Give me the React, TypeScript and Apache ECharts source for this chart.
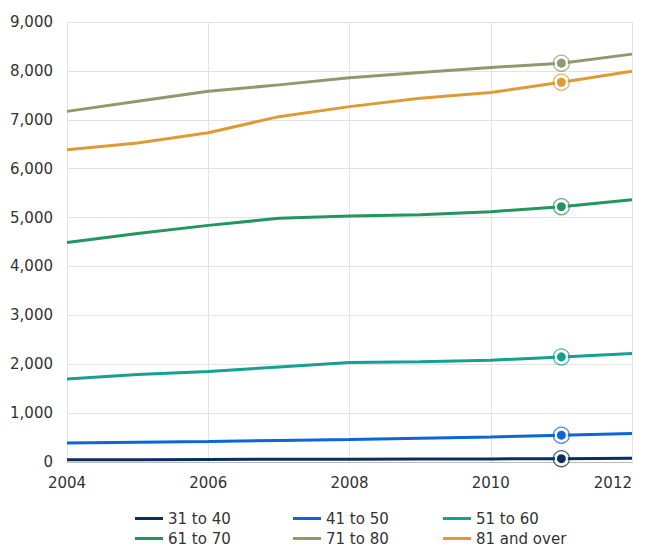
import React, { useEffect, useRef } from "react";
import * as echarts from "echarts";

const years = [2004, 2005, 2006, 2007, 2008, 2009, 2010, 2011, 2012];
const seriesNames = ["31 to 40", "41 to 50", "51 to 60", "61 to 70", "71 to 80", "81 and over"];
const age31to40 = [45, 48, 52, 55, 58, 60, 63, 68, 75];
const age41to50 = [391, 405, 419, 440, 460, 487, 513, 548, 583];
const age51to60 = [1699, 1789, 1851, 1945, 2035, 2049, 2082, 2150, 2218];
const age61to70 = [4491, 4675, 4840, 4984, 5031, 5057, 5119, 5222, 5365];
const age71to80 = [7172, 7378, 7583, 7714, 7858, 7967, 8070, 8158, 8343];
const age81over = [6386, 6523, 6735, 7064, 7269, 7440, 7556, 7768, 7994];
const seriesValues = [age31to40, age41to50, age51to60, age61to70, age71to80, age81over];
const colors = ["#0d2e5c", "#0b66d6", "#16a090", "#23955f", "#8c9b6c", "#de9b35"];
const highlightYear = 2011;

const legendPos = [
  [135, 511], [293, 511], [443, 511],
  [135, 531], [293, 531], [443, 531],
];

const FONT = "DejaVu Sans";

export default function App() {
  const ref = useRef<HTMLDivElement>(null);
  useEffect(() => {
    if (!ref.current) return;
    const chart = echarts.init(ref.current, null, { renderer: "svg" });
    const lineSeries = seriesNames.map((name, i) => ({
      name,
      type: "line",
      symbol: "none",
      lineStyle: { width: 3, color: colors[i] },
      itemStyle: { color: colors[i] },
      z: 3,
      data: years.map((y, j) =>
        y === highlightYear
          ? {
              value: [y, seriesValues[i][j]],
              symbol: "circle",
              symbolSize: 11,
              itemStyle: { color: colors[i], borderColor: "#fff", borderWidth: 2 },
            }
          : [y, seriesValues[i][j]]
      ),
    }));
    const ringSeries = seriesNames.map((name, i) => ({
      name: name + " ring",
      type: "scatter",
      symbol: "circle",
      symbolSize: 16,
      silent: true,
      z: 2,
      itemStyle: { color: "#ffffff", borderColor: colors[i], borderWidth: 1.3, opacity: 0.75 },
      data: years
        .map((y, j) => [y, seriesValues[i][j]])
        .filter((d) => d[0] === highlightYear),
    }));
    chart.setOption({
      animation: false,
      color: colors,
      textStyle: { fontFamily: FONT },
      grid: { left: 67, right: 14, top: 22, bottom: 87, containLabel: false },
      xAxis: {
        type: "value",
        min: 2004,
        max: 2012,
        interval: 2,
        axisLine: { show: true, lineStyle: { color: "#bbbbbb", width: 1 } },
        axisTick: { show: false },
        splitLine: { show: true, lineStyle: { color: "#e3e3e3" } },
        axisLabel: {
          color: "#333",
          fontSize: 15,
          fontFamily: FONT,
          margin: 13,
          alignMaxLabel: "right",
          formatter: (v: number) => String(v),
        },
      },
      yAxis: {
        type: "value",
        min: 0,
        max: 9000,
        interval: 1000,
        axisLine: { show: false },
        axisTick: { show: false },
        splitLine: { show: true, lineStyle: { color: "#e3e3e3" } },
        axisLabel: {
          color: "#333",
          fontSize: 15,
          fontFamily: FONT,
          margin: 14,
          formatter: (v: number) => v.toLocaleString("en-US"),
        },
      },
      legend: seriesNames.map((name, i) => ({
        data: [name],
        left: legendPos[i][0],
        top: legendPos[i][1],
        padding: 0,
        icon: "rect",
        itemWidth: 28,
        itemHeight: 3,
        selectedMode: false,
        textStyle: { color: "#333", fontSize: 15, fontFamily: FONT },
      })),
      series: [...ringSeries, ...lineSeries],
    });
    return () => chart.dispose();
  }, []);
  return (
    <div
      ref={ref}
      style={{ position: "fixed", left: 0, top: 0, width: 646, height: 549, background: "#fff" }}
    />
  );
}
